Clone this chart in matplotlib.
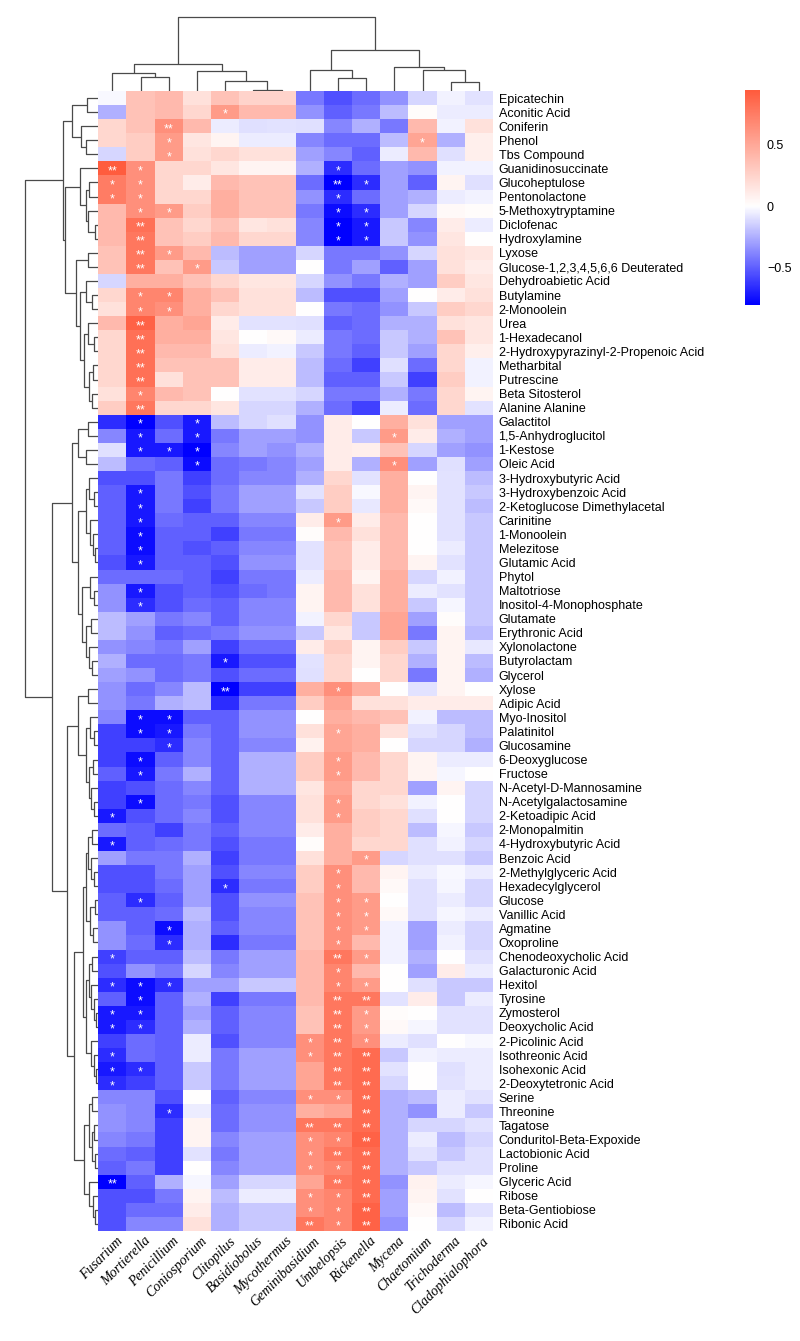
import matplotlib
matplotlib.use("Agg")
import matplotlib.pyplot as plt
import numpy as np
from matplotlib.colors import LinearSegmentedColormap, TwoSlopeNorm

genera = ["Fusarium", "Mortierella", "Penicillium", "Coniosporium", "Clitopilus",
          "Basidiobolus", "Mycothermus", "Geminibasidium", "Umbelopsis", "Rickenella",
          "Mycena", "Chaetomium", "Trichoderma", "Cladophialophora"]

metabolites = [
    "Epicatechin", "Aconitic Acid", "Coniferin", "Phenol", "Tbs Compound",
    "Guanidinosuccinate", "Glucoheptulose", "Pentonolactone", "5-Methoxytryptamine",
    "Diclofenac", "Hydroxylamine", "Lyxose", "Glucose-1,2,3,4,5,6,6 Deuterated",
    "Dehydroabietic Acid", "Butylamine", "2-Monoolein", "Urea", "1-Hexadecanol",
    "2-Hydroxypyrazinyl-2-Propenoic Acid", "Metharbital", "Putrescine", "Beta Sitosterol",
    "Alanine Alanine", "Galactitol", "1,5-Anhydroglucitol", "1-Kestose", "Oleic Acid",
    "3-Hydroxybutyric Acid", "3-Hydroxybenzoic Acid", "2-Ketoglucose Dimethylacetal",
    "Carinitine", "1-Monoolein", "Melezitose", "Glutamic Acid", "Phytol", "Maltotriose",
    "Inositol-4-Monophosphate", "Glutamate", "Erythronic Acid", "Xylonolactone",
    "Butyrolactam", "Glycerol", "Xylose", "Adipic Acid", "Myo-Inositol", "Palatinitol",
    "Glucosamine", "6-Deoxyglucose", "Fructose", "N-Acetyl-D-Mannosamine",
    "N-Acetylgalactosamine", "2-Ketoadipic Acid", "2-Monopalmitin", "4-Hydroxybutyric Acid",
    "Benzoic Acid", "2-Methylglyceric Acid", "Hexadecylglycerol", "Glucose", "Vanillic Acid",
    "Agmatine", "Oxoproline", "Chenodeoxycholic Acid", "Galacturonic Acid", "Hexitol",
    "Tyrosine", "Zymosterol", "Deoxycholic Acid", "2-Picolinic Acid", "Isothreonic Acid",
    "Isohexonic Acid", "2-Deoxytetronic Acid", "Serine", "Threonine", "Tagatose",
    "Conduritol-Beta-Expoxide", "Lactobionic Acid", "Proline", "Glyceric Acid", "Ribose",
    "Beta-Gentiobiose", "Ribonic Acid"]

# correlation values, rows = metabolites, columns = genera (display order)
corr = [
    [-0.02, 0.35, 0.40, 0.17, 0.35, 0.25, 0.25, -0.42, -0.55, -0.46, -0.34, -0.13, -0.04, -0.09],
    [-0.25, 0.35, 0.40, 0.23, 0.58, 0.40, 0.40, -0.34, -0.50, -0.42, -0.21, 0.02, -0.06, -0.06],
    [0.23, 0.35, 0.64, 0.40, -0.06, -0.10, -0.09, -0.10, -0.38, -0.25, -0.42, 0.40, -0.04, 0.17],
    [0.23, 0.29, 0.58, 0.14, 0.06, -0.06, -0.06, -0.38, -0.46, -0.46, -0.21, 0.52, -0.25, 0.09],
    [-0.13, 0.29, 0.58, 0.17, 0.23, 0.17, 0.17, -0.30, -0.38, -0.50, -0.06, 0.40, -0.10, 0.09],
    [0.94, 0.64, 0.23, 0.23, 0.14, 0.06, 0.06, -0.25, -0.66, -0.46, -0.30, -0.34, -0.04, -0.04],
    [0.75, 0.64, 0.23, 0.11, 0.40, 0.35, 0.35, -0.46, -0.80, -0.66, -0.30, -0.50, 0.06, -0.10],
    [0.75, 0.64, 0.23, 0.23, 0.46, 0.35, 0.35, -0.34, -0.66, -0.46, -0.30, -0.25, -0.06, -0.04],
    [0.40, 0.64, 0.58, 0.29, 0.46, 0.35, 0.35, -0.42, -0.76, -0.66, -0.30, -0.13, 0.03, 0.02],
    [0.40, 0.82, 0.35, 0.23, 0.35, 0.14, 0.17, -0.38, -0.80, -0.72, -0.17, -0.38, 0.11, -0.06],
    [0.40, 0.78, 0.35, 0.29, 0.40, 0.23, 0.23, -0.38, -0.80, -0.72, -0.17, -0.34, 0.14, 0.00],
    [0.35, 0.78, 0.58, 0.40, -0.21, -0.30, -0.30, -0.13, -0.42, -0.42, -0.34, -0.13, 0.17, 0.14],
    [0.35, 0.78, 0.35, 0.58, -0.17, -0.30, -0.30, 0.00, -0.42, -0.30, -0.50, -0.30, 0.17, 0.11],
    [-0.13, 0.46, 0.46, 0.35, 0.23, 0.14, 0.14, -0.13, -0.34, -0.42, -0.25, -0.30, 0.29, 0.14],
    [0.23, 0.70, 0.70, 0.46, 0.35, 0.17, 0.17, -0.21, -0.55, -0.55, -0.30, 0.00, 0.11, 0.17],
    [0.17, 0.70, 0.64, 0.46, 0.23, 0.17, 0.17, 0.00, -0.42, -0.46, -0.34, -0.17, 0.29, 0.23],
    [0.40, 0.90, 0.46, 0.52, 0.11, -0.09, -0.09, -0.10, -0.50, -0.46, -0.25, -0.25, 0.17, 0.14],
    [0.23, 0.82, 0.46, 0.46, 0.14, 0.00, 0.03, -0.06, -0.42, -0.46, -0.17, -0.25, 0.35, 0.14],
    [0.23, 0.82, 0.40, 0.40, 0.17, -0.06, -0.04, -0.17, -0.42, -0.50, -0.17, -0.30, 0.23, 0.09],
    [0.23, 0.82, 0.35, 0.35, 0.35, 0.11, 0.11, -0.21, -0.46, -0.60, -0.10, -0.46, 0.23, -0.04],
    [0.23, 0.82, 0.17, 0.35, 0.35, 0.11, 0.11, -0.21, -0.50, -0.50, -0.17, -0.60, 0.29, -0.04],
    [0.17, 0.70, 0.40, 0.35, 0.00, -0.09, -0.09, -0.13, -0.42, -0.42, -0.25, -0.42, 0.23, 0.06],
    [0.29, 0.78, 0.23, 0.23, 0.14, -0.13, -0.13, -0.25, -0.46, -0.60, -0.06, -0.46, 0.23, -0.09],
    [-0.66, -0.80, -0.55, -0.72, -0.21, -0.13, -0.10, -0.34, 0.11, 0.00, 0.46, 0.17, -0.30, -0.30],
    [-0.38, -0.72, -0.46, -0.72, -0.42, -0.30, -0.30, -0.34, 0.11, -0.17, 0.58, 0.11, -0.25, -0.30],
    [-0.10, -0.72, -0.72, -0.80, -0.38, -0.30, -0.34, -0.25, 0.11, 0.09, 0.35, -0.13, -0.30, -0.34],
    [-0.21, -0.46, -0.50, -0.76, -0.46, -0.42, -0.38, -0.30, 0.11, -0.25, 0.64, -0.30, -0.10, -0.30],
    [-0.55, -0.55, -0.42, -0.60, -0.46, -0.38, -0.38, -0.25, 0.23, -0.09, 0.46, 0.00, -0.09, -0.21],
    [-0.50, -0.72, -0.42, -0.55, -0.42, -0.30, -0.30, -0.09, 0.29, -0.02, 0.46, 0.06, -0.09, -0.17],
    [-0.50, -0.72, -0.42, -0.60, -0.42, -0.30, -0.30, -0.17, 0.29, -0.07, 0.46, 0.03, -0.09, -0.21],
    [-0.50, -0.72, -0.46, -0.50, -0.50, -0.38, -0.38, 0.11, 0.58, 0.11, 0.40, 0.00, -0.09, -0.17],
    [-0.50, -0.76, -0.50, -0.50, -0.60, -0.42, -0.42, 0.02, 0.40, 0.17, 0.40, 0.00, -0.09, -0.17],
    [-0.50, -0.76, -0.50, -0.55, -0.50, -0.38, -0.38, -0.09, 0.35, 0.11, 0.40, 0.00, -0.06, -0.17],
    [-0.55, -0.72, -0.50, -0.50, -0.55, -0.34, -0.34, -0.09, 0.35, 0.11, 0.40, 0.06, -0.09, -0.17],
    [-0.46, -0.46, -0.46, -0.50, -0.60, -0.42, -0.42, -0.06, 0.40, 0.06, 0.46, -0.13, -0.04, -0.17],
    [-0.34, -0.72, -0.55, -0.50, -0.55, -0.46, -0.42, 0.06, 0.40, 0.17, 0.46, -0.06, -0.09, -0.17],
    [-0.34, -0.66, -0.55, -0.46, -0.50, -0.38, -0.38, 0.06, 0.40, 0.17, 0.46, -0.17, -0.03, -0.17],
    [-0.21, -0.30, -0.42, -0.38, -0.50, -0.38, -0.38, -0.04, 0.23, -0.17, 0.52, -0.30, 0.02, -0.17],
    [-0.21, -0.34, -0.50, -0.46, -0.42, -0.34, -0.34, -0.17, 0.14, -0.17, 0.52, -0.42, 0.06, -0.21],
    [-0.34, -0.38, -0.42, -0.30, -0.60, -0.46, -0.46, 0.11, 0.29, 0.06, 0.29, -0.17, 0.06, -0.07],
    [-0.25, -0.46, -0.46, -0.42, -0.72, -0.55, -0.55, -0.09, 0.23, 0.06, 0.23, -0.25, 0.06, -0.21],
    [-0.30, -0.34, -0.46, -0.42, -0.55, -0.46, -0.46, -0.10, 0.23, 0.00, 0.23, -0.42, 0.06, -0.25],
    [-0.34, -0.46, -0.38, -0.21, -0.80, -0.60, -0.60, 0.46, 0.64, 0.46, 0.00, -0.09, 0.06, 0.00],
    [-0.34, -0.42, -0.25, -0.21, -0.66, -0.42, -0.42, 0.29, 0.52, 0.17, 0.17, 0.11, 0.11, 0.11],
    [-0.38, -0.76, -0.76, -0.50, -0.50, -0.34, -0.34, 0.00, 0.46, 0.40, 0.35, -0.04, -0.21, -0.21],
    [-0.60, -0.76, -0.72, -0.42, -0.50, -0.34, -0.34, 0.17, 0.52, 0.46, 0.17, -0.09, -0.13, -0.21],
    [-0.60, -0.60, -0.66, -0.38, -0.50, -0.38, -0.38, 0.08, 0.52, 0.46, 0.00, -0.13, -0.13, -0.25],
    [-0.60, -0.76, -0.50, -0.38, -0.50, -0.25, -0.25, 0.29, 0.58, 0.40, 0.23, 0.06, -0.06, -0.06],
    [-0.50, -0.72, -0.42, -0.25, -0.50, -0.25, -0.25, 0.29, 0.58, 0.40, 0.23, 0.06, -0.03, 0.00],
    [-0.60, -0.55, -0.46, -0.38, -0.50, -0.25, -0.25, 0.14, 0.52, 0.23, 0.23, -0.30, 0.06, -0.13],
    [-0.60, -0.76, -0.46, -0.42, -0.55, -0.38, -0.38, 0.17, 0.58, 0.23, 0.17, -0.04, 0.00, -0.13],
    [-0.72, -0.55, -0.46, -0.38, -0.55, -0.38, -0.38, 0.17, 0.58, 0.29, 0.23, -0.10, 0.00, -0.13],
    [-0.46, -0.50, -0.60, -0.42, -0.50, -0.38, -0.38, 0.11, 0.46, 0.29, 0.23, -0.21, -0.03, -0.17],
    [-0.72, -0.50, -0.46, -0.42, -0.55, -0.42, -0.42, 0.02, 0.46, 0.23, 0.23, -0.10, -0.04, -0.13],
    [-0.30, -0.42, -0.42, -0.25, -0.60, -0.42, -0.42, 0.17, 0.46, 0.58, -0.13, -0.10, -0.10, -0.17],
    [-0.55, -0.55, -0.42, -0.30, -0.55, -0.38, -0.38, 0.29, 0.64, 0.40, 0.06, -0.06, -0.02, -0.06],
    [-0.55, -0.55, -0.46, -0.30, -0.66, -0.42, -0.42, 0.29, 0.64, 0.40, 0.03, -0.10, -0.03, -0.13],
    [-0.50, -0.66, -0.50, -0.30, -0.55, -0.34, -0.34, 0.35, 0.64, 0.58, 0.00, -0.10, -0.06, -0.13],
    [-0.50, -0.50, -0.46, -0.21, -0.55, -0.38, -0.38, 0.35, 0.64, 0.58, 0.03, -0.10, -0.03, -0.06],
    [-0.34, -0.50, -0.76, -0.25, -0.50, -0.38, -0.38, 0.35, 0.64, 0.58, -0.04, -0.30, -0.06, -0.13],
    [-0.34, -0.46, -0.66, -0.25, -0.66, -0.42, -0.42, 0.35, 0.64, 0.40, -0.04, -0.30, -0.04, -0.13],
    [-0.60, -0.50, -0.50, -0.21, -0.42, -0.30, -0.30, 0.40, 0.78, 0.58, -0.04, -0.25, 0.00, -0.10],
    [-0.55, -0.34, -0.42, -0.13, -0.38, -0.30, -0.30, 0.40, 0.70, 0.40, 0.00, -0.30, 0.11, -0.06],
    [-0.66, -0.76, -0.66, -0.30, -0.30, -0.17, -0.17, 0.40, 0.70, 0.58, 0.00, -0.10, -0.17, -0.17],
    [-0.50, -0.76, -0.50, -0.25, -0.60, -0.42, -0.42, 0.40, 0.78, 0.78, -0.09, 0.11, -0.17, -0.06],
    [-0.72, -0.72, -0.50, -0.30, -0.50, -0.38, -0.38, 0.35, 0.78, 0.58, 0.02, 0.00, -0.09, -0.09],
    [-0.72, -0.66, -0.50, -0.25, -0.50, -0.38, -0.38, 0.35, 0.78, 0.58, 0.03, -0.03, -0.09, -0.09],
    [-0.60, -0.46, -0.50, -0.06, -0.55, -0.38, -0.38, 0.64, 0.78, 0.64, -0.06, -0.10, 0.00, -0.02],
    [-0.66, -0.46, -0.50, -0.06, -0.42, -0.30, -0.30, 0.64, 0.78, 0.85, -0.17, -0.04, -0.06, -0.06],
    [-0.72, -0.66, -0.50, -0.17, -0.42, -0.30, -0.30, 0.52, 0.78, 0.85, -0.09, 0.00, -0.10, -0.06],
    [-0.66, -0.60, -0.50, -0.17, -0.42, -0.30, -0.30, 0.52, 0.78, 0.85, -0.13, 0.00, -0.09, -0.06],
    [-0.38, -0.38, -0.55, 0.00, -0.50, -0.38, -0.38, 0.64, 0.64, 0.85, -0.25, -0.21, -0.06, -0.09],
    [-0.34, -0.38, -0.66, -0.06, -0.46, -0.34, -0.34, 0.46, 0.52, 0.85, -0.25, -0.34, -0.06, -0.17],
    [-0.34, -0.38, -0.60, 0.06, -0.46, -0.34, -0.34, 0.78, 0.78, 0.85, -0.25, -0.13, -0.13, -0.09],
    [-0.38, -0.42, -0.60, 0.06, -0.38, -0.30, -0.30, 0.64, 0.70, 0.90, -0.25, -0.06, -0.21, -0.13],
    [-0.46, -0.50, -0.60, -0.09, -0.42, -0.30, -0.30, 0.64, 0.78, 0.85, -0.25, -0.09, -0.17, -0.10],
    [-0.50, -0.42, -0.60, 0.00, -0.38, -0.30, -0.30, 0.64, 0.70, 0.85, -0.25, -0.17, -0.10, -0.10],
    [-0.80, -0.50, -0.25, -0.03, -0.30, -0.13, -0.13, 0.52, 0.78, 0.85, -0.34, 0.08, -0.06, -0.03],
    [-0.55, -0.55, -0.42, 0.06, -0.21, -0.06, -0.06, 0.64, 0.70, 0.85, -0.30, 0.06, -0.09, 0.00],
    [-0.55, -0.46, -0.46, 0.11, -0.25, -0.17, -0.17, 0.64, 0.70, 0.90, -0.30, 0.03, -0.21, -0.09],
    [-0.55, -0.38, -0.38, 0.17, -0.25, -0.17, -0.17, 0.78, 0.70, 0.90, -0.34, 0.00, -0.13, -0.04],
]

# significance: 0 = none, 1 = "*", 2 = "**"
signif = [
    "00000000000000", "00001000000000", "00200000000000", "00100000000100",
    "00100000000000", "21000000100000", "11000000210000", "11000000100000",
    "01100000110000", "02000000110000", "02000000110000", "02100000000000",
    "02010000000000", "00000000000000", "01100000000000", "01100000000000",
    "02000000000000", "02000000000000", "02000000000000", "02000000000000",
    "02000000000000", "01000000000000", "02000000000000", "01010000000000",
    "01010000001000", "01110000000000", "00010000001000", "00000000000000",
    "01000000000000", "01000000000000", "01000000100000", "01000000000000",
    "01000000000000", "01000000000000", "00000000000000", "01000000000000",
    "01000000000000", "00000000000000", "00000000000000", "00000000000000",
    "00001000000000", "00000000000000", "00002000100000", "00000000000000",
    "01100000000000", "01100000100000", "00100000000000", "01000000100000",
    "01000000100000", "00000000000000", "01000000100000", "10000000100000",
    "00000000000000", "10000000000000", "00000000010000", "00000000100000",
    "00001000100000", "01000000110000", "00000000110000", "00100000110000",
    "00100000100000", "10000000210000", "00000000100000", "11100000110000",
    "01000000220000", "11000000210000", "11000000210000", "00000001210000",
    "10000001220000", "11000000220000", "10000000220000", "00000001120000",
    "00100000020000", "00000002220000", "00000001120000", "00000001220000",
    "00000001120000", "20000000220000", "00000001120000", "00000001120000",
    "00000002120000",
]

# dendrograms: [left, right, merge height], leaves are display positions
col_tree = [[[0, [1, 2, 13.7], 17.7], [3, [4, [5, 6, 1.0], 10.3], 20.0], 27.0],
            [[7, [8, 9, 12.7], 21.0], [10, [11, [12, 13, 8.7], 20.7], 24.3], 41.0],
            74.3]

row_A = [[0, 1, 10.7], [2, [3, 4, 12.3], 17.3], 26.3]
row_B1 = [5, [[6, 7, 8.7], [8, [9, 10, 3.0], 9.7], 12.0], 18.0]
row_B2b = [[13, [14, 15, 6.0], 12.0], [[16, [17, 18, 4.0], 10.0], [[19, 20, 5.0], [21, 22, 6.0], 9.0], 14.0], 18.0]
row_B2 = [[11, 12, 9.7], row_B2b, 22.0]
row_top = [row_A, [row_B1, row_B2, 33.0], 35.3]
row_C1 = [[23, 24, 10.0], [25, 26, 12.0], 20.0]
row_C2 = [[[27, [28, 29, 4.0], 9.0], [30, [31, [32, 33, 3.0], 5.0], 8.0], 12.0],
          [[34, [35, 36, 4.0], 8.0], [[37, 38, 7.0], [39, [40, 41, 6.0], 9.0], 12.0], 16.0], 20.0]
row_D1 = [[42, 43, 10.0], [[44, [45, 46, 4.0], 8.0], [[47, 48, 5.0], [49, [50, 51, 4.0], 7.0], 9.0], 12.0], 20.0]
row_P = [[[52, 53, 6.0], [54, [55, 56, 4.0], 7.0], 10.0], [[57, 58, 3.0], [59, 60, 5.0], 8.0], 12.0]
row_Q = [[[61, 62, 6.0], [63, [64, [65, 66, 2.0], 4.0], 7.0], 9.0], [67, [68, [69, 70, 2.0], 4.0], 7.0], 12.0]
row_D2b = [[[71, 72, 6.0], [[73, 74, 4.0], [75, 76, 3.0], 6.0], 9.0], [77, [78, [79, 80, 3.0], 5.0], 9.0], 14.0]
row_D = [row_D1, [[row_P, row_Q, 15.0], row_D2b, 24.0], 31.3]
row_bottom = [[row_C1, row_C2, 26.3], row_D, 46.3]
row_tree = [row_top, row_bottom, 73.0]

W, H = 800, 1341
fig = plt.figure(figsize=(W / 100, H / 100), dpi=100)


def px_axes(x0, y0, x1, y1):
    return fig.add_axes([x0 / W, 1 - y1 / H, (x1 - x0) / W, (y1 - y0) / H])


hx0, hx1, hy0, hy1 = 98.3, 493.0, 91.0, 1231.0
nr, nc = len(metabolites), len(genera)
data = np.array(corr)

cmap = LinearSegmentedColormap.from_list("bwt", ["#0000FF", "#FFFFFF", "#FF5C3E"])
norm = TwoSlopeNorm(vmin=-0.8, vcenter=0.0, vmax=0.94)

ax = px_axes(hx0, hy0, hx1, hy1)
ax.pcolormesh(np.arange(nc + 1), np.arange(nr + 1), data, cmap=cmap, norm=norm)
ax.set_xlim(0, nc)
ax.set_ylim(nr, 0)
for s in ax.spines.values():
    s.set_visible(False)
ax.set_xticks([])
ax.yaxis.tick_right()
ax.set_yticks(np.arange(nr) + 0.5)
ax.set_yticklabels(metabolites, family="Liberation Sans", fontsize=9)
ax.tick_params(axis="y", length=0, pad=4)

for j, g in enumerate(genera):
    ax.text(j + 0.62, nr + 0.25, g, rotation=45, rotation_mode="anchor", ha="right", va="top",
            family="Liberation Serif", style="italic", fontsize=10, clip_on=False)

for i, srow in enumerate(signif):
    for j, ch in enumerate(srow):
        if ch != "0":
            ax.text(j + 0.5, i + 0.7, "*" * int(ch), color="white", ha="center", va="center",
                    family="Liberation Sans", fontsize=9)

line_kw = dict(color="#4a4a4a", lw=0.9, solid_capstyle="butt")


def draw(node, axd, orient):
    if isinstance(node, int):
        return node + 0.5, 0.0
    a, b, h = node
    pa, ha = draw(a, axd, orient)
    pb, hb = draw(b, axd, orient)
    if orient == "top":
        axd.plot([pa, pa, pb, pb], [ha, h, h, hb], **line_kw)
    else:
        axd.plot([ha, h, h, hb], [pa, pa, pb, pb], **line_kw)
    return (pa + pb) / 2, h


axt = px_axes(hx0, 0, hx1, hy0)
draw(col_tree, axt, "top")
axt.set_xlim(0, nc)
axt.set_ylim(0, hy0)
axt.axis("off")

axl = px_axes(0, hy0, 98.0, hy1)
draw(row_tree, axl, "left")
axl.set_xlim(98.0, 0)
axl.set_ylim(nr, 0)
axl.axis("off")

# colour legend
axc = px_axes(745, 90, 760, 305)
grad = np.linspace(-0.8, 0.94, 300).reshape(-1, 1)
axc.imshow(grad, cmap=cmap, norm=norm, aspect="auto", origin="lower",
           extent=[0, 1, -0.8, 0.94])
axc.set_xticks([])
axc.yaxis.tick_right()
axc.set_yticks([-0.5, 0, 0.5])
axc.set_yticklabels(["\u22120.5", "0", "0.5"], family="Liberation Sans", fontsize=9)
axc.tick_params(axis="y", length=0, pad=5)
for s in axc.spines.values():
    s.set_visible(False)

fig.savefig("out.png", dpi=100)
